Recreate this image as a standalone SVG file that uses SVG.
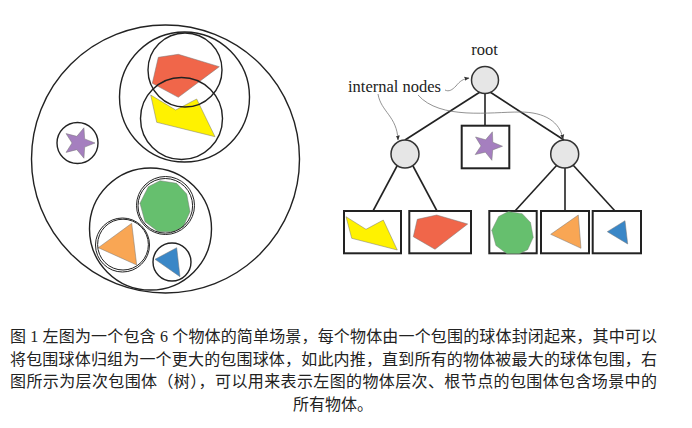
<svg xmlns="http://www.w3.org/2000/svg" xmlns:xlink="http://www.w3.org/1999/xlink" width="692" height="428" viewBox="0 0 692 428">
<style>
.ring{fill:none;stroke:#222;stroke-width:1.4}
.ring2{fill:none;stroke:#222;stroke-width:1}
.node{fill:#e6e6e6;stroke:#333;stroke-width:1.5}
.box{fill:#fff;stroke:#222;stroke-width:2}
.edge{fill:none;stroke:#222;stroke-width:1.6}
.note{fill:none;stroke:#777;stroke-width:0.8}
.sh{stroke:#777;stroke-width:0.5}
.red{fill:#f0664a}.yel{fill:#fff200}.pur{fill:#a57fbf}.grn{fill:#66bf6e}.org{fill:#f9a654}.blu{fill:#3a87c7}
.lbl{font-family:"Liberation Serif",serif;font-size:16.5px;fill:#222}
.cap{font-family:"Liberation Serif","Noto Sans CJK SC",serif;font-size:16px;fill:#222}
</style>
<defs>
<marker id="ah" viewBox="0 0 10 10" refX="9" refY="5" markerWidth="5" markerHeight="5" orient="auto" markerUnits="userSpaceOnUse">
<path d="M0,1 L10,5 L0,9 z" fill="#333"/>
</marker>
<polygon id="deca" points="-5,-25.3 11.7,-22.7 21.7,-12 25,5.7 18.3,20.7 8.3,25.7 -6.7,25.7 -20,15.7 -25,-2.7 -16.7,-19.3"/>
</defs>
<rect width="692" height="428" fill="#fff"/>

<g id="scene">
<polygon class="sh yel" points="150.7,95 175.7,110 196.7,99 215,136.7 156.7,122.3"/>
<polygon class="sh red" points="158.3,57.3 178.3,54.3 219.3,66.7 178.3,97.3 152.3,83.3"/>
<polygon class="sh pur" points="83.94,127.78 84.66,138.89 95,143 84.66,147.11 83.94,158.22 76.84,149.66 66.06,152.4 72,143 66.06,133.6 76.84,136.34"/>
<use xlink:href="#deca" class="sh grn" transform="translate(165,206)"/>
<polygon class="sh org" points="98.3,247.7 131.7,223.3 136.7,265"/>
<polygon class="sh blu" points="155,259.3 176.7,247.7 180,276.7"/>
<circle class="ring" cx="165.5" cy="159" r="134"/>
<circle class="ring" cx="184.5" cy="97" r="65"/>
<circle class="ring" cx="185" cy="70" r="37"/>
<circle class="ring" cx="181.5" cy="118.5" r="41"/>
<circle class="ring" cx="77.5" cy="143" r="20.5"/>
<circle class="ring" cx="150.5" cy="229" r="61"/>
<circle class="ring2" cx="165.5" cy="205.5" r="29"/>
<circle class="ring2" cx="165.3" cy="205.8" r="27.3"/>
<circle class="ring2" cx="122.5" cy="245" r="27"/>
<circle class="ring2" cx="123" cy="244.6" r="25.4"/>
<circle class="ring" cx="172" cy="262" r="19"/>
</g>

<g id="connectors">
<line class="edge" x1="480" y1="92" x2="405" y2="140"/>
<line class="edge" x1="485" y1="93.5" x2="485" y2="126"/>
<line class="edge" x1="490" y1="92" x2="564" y2="140"/>
<line class="edge" x1="397" y1="166" x2="373" y2="211"/>
<line class="edge" x1="413" y1="166" x2="437" y2="211"/>
<line class="edge" x1="557" y1="165" x2="515" y2="211"/>
<line class="edge" x1="565" y1="168" x2="565" y2="211"/>
<line class="edge" x1="573" y1="165" x2="615" y2="211"/>
<path class="note" marker-end="url(#ah)" d="M445,90 C449,92 452,90 456,86 C460,81 463,79 469,78"/>
<path class="note" marker-end="url(#ah)" d="M378,94 C381,112 397,116 398,140"/>
<path class="note" marker-end="url(#ah)" d="M418,95 C440,120 490,112 520,112 C545,112 560,122 563,139"/>
</g>

<g id="labels">
<text class="lbl" x="484.5" y="55" text-anchor="middle">root</text>
<text class="lbl" x="348" y="92">internal nodes</text>
</g>

<g id="root"><circle class="node" cx="485" cy="80" r="13.5"/></g>
<g id="inner-left"><circle class="node" cx="405" cy="154" r="14"/></g>
<g id="inner-right"><circle class="node" cx="564.7" cy="154" r="14"/></g>

<g id="leaf-star">
<rect class="box" x="461.7" y="125.7" width="47.6" height="42.6"/>
<polygon class="sh pur" points="492.38,131.82 492.82,142.27 502.5,146.26 492.69,149.91 491.89,160.34 485.38,152.15 475.21,154.6 481,145.89 475.52,136.97 485.6,139.78"/>
</g>
<g id="leaf-yellow">
<rect class="box" x="344" y="211" width="57" height="42.3"/>
<polygon class="sh yel" points="346,216.7 366,229.3 383.3,220 397.3,250 351.7,238.3"/>
</g>
<g id="leaf-red">
<rect class="box" x="409.3" y="211" width="61.7" height="42.3"/>
<polygon class="sh red" points="417.3,219.3 436.7,215 467.7,224 435,249.3 413.3,236.7"/>
</g>
<g id="leaf-green">
<rect class="box" x="489.3" y="211" width="47.4" height="42.3"/>
<use xlink:href="#deca" class="sh grn" transform="translate(512.5,232.5) scale(0.83)"/>
</g>
<g id="leaf-orange">
<rect class="box" x="541" y="211" width="48" height="42.3"/>
<polygon class="sh org" points="550.7,234.3 578.3,215 581,248.3"/>
</g>
<g id="leaf-blue">
<rect class="box" x="592.7" y="211" width="48.3" height="42.3"/>
<polygon class="sh blu" points="607.3,231.7 625,220.7 627.7,244"/>
</g>

<g id="caption">
<text class="cap" x="10" y="342" textLength="647" lengthAdjust="spacing">图 1 左图为一个包含 6 个物体的简单场景，每个物体由一个包围的球体封闭起来，其中可以</text>
<text class="cap" x="10" y="364.5" textLength="647" lengthAdjust="spacing">将包围球体归组为一个更大的包围球体，如此内推，直到所有的物体被最大的球体包围，右</text>
<text class="cap" x="10" y="387" textLength="647" lengthAdjust="spacing">图所示为层次包围体（树），可以用来表示左图的物体层次、根节点的包围体包含场景中的</text>
<text class="cap" x="293" y="409.5">所有物体。</text>
</g>
</svg>
